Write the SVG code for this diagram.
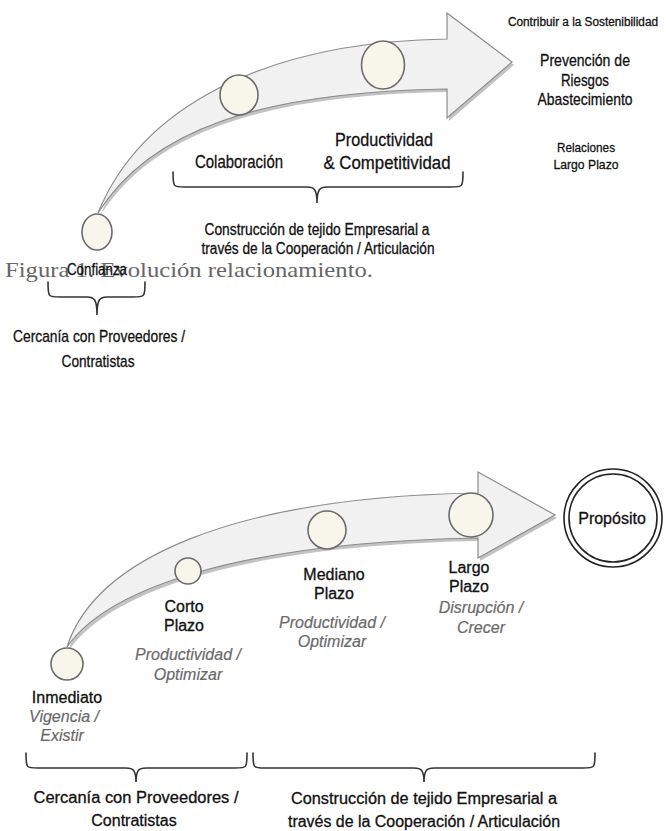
<svg xmlns="http://www.w3.org/2000/svg" width="666" height="831" viewBox="0 0 666 831">
  <defs>
    <style>
      .lbl { font-family: "Liberation Sans", Arial, Helvetica, sans-serif; fill: #111111; stroke: #111111; stroke-width: 0.3; text-anchor: middle; }
      .top { font-size: 19px; }
      .mid { font-size: 16px; }
      .big { font-size: 17px; }
      .sm { font-size: 13.5px; }
      .xs { font-size: 12px; }
      .side { font-size: 17px; }
      .btm { font-size: 16px; }
      .note { font-family: "Liberation Sans", Arial, Helvetica, sans-serif; font-size: 16px; font-style: italic; fill: #6a6a6a; stroke: #6a6a6a; stroke-width: 0.2; text-anchor: middle; }
      .cap { font-family: "Liberation Serif", "Times New Roman", serif; font-size: 22px; fill: #666666; }
      .arrow { fill: #f1f1f1; stroke: #8c8c8c; stroke-width: 1.2; }
      .shadow { fill: #b4b4b4; opacity: 0.8; }
      .dot { fill: #f8f5ea; stroke: #6b6b6b; stroke-width: 1.6; }
      .brace { fill: none; stroke: #333333; stroke-width: 1.6; stroke-linecap: round; }
      .ring { fill: #ffffff; stroke: #222222; stroke-width: 1.6; }
    </style>
  </defs>

  <rect width="666" height="831" fill="#ffffff"/>

  <!-- Upper figure: curved growth arrow -->
  <g id="arrow-top">
    <path class="shadow" transform="translate(2,3)" d="M98,213 C140,110 260,42 447,39 L447,13 L512,62 L447,118 L447,89 C260,92 150,130 98,213 Z"/>
    <path class="arrow" d="M98,213 C140,110 260,42 447,39 L447,13 L512,62 L447,118 L447,89 C260,92 150,130 98,213 Z"/>
  </g>

  <g id="caption">
    <text class="cap" x="5" y="277" textLength="368" lengthAdjust="spacingAndGlyphs">Figura 1. Evolución relacionamiento.</text>
  </g>

  <g id="node-confianza">
    <ellipse class="dot" cx="97" cy="232" rx="15" ry="18"/>
    <text class="lbl big" x="97" y="275" textLength="60" lengthAdjust="spacingAndGlyphs">Confianza</text>
  </g>

  <g id="node-colaboracion">
    <ellipse class="dot" cx="239" cy="95" rx="19" ry="20"/>
    <text class="lbl top" x="239" y="168" textLength="88" lengthAdjust="spacingAndGlyphs">Colaboración</text>
  </g>

  <g id="node-productividad">
    <ellipse class="dot" cx="383" cy="65" rx="21.5" ry="24"/>
    <text class="lbl top" x="384" y="146" textLength="98" lengthAdjust="spacingAndGlyphs">Productividad</text>
    <text class="lbl top" x="387" y="169" textLength="127" lengthAdjust="spacingAndGlyphs">&amp; Competitividad</text>
  </g>

  <g id="outcomes-top">
    <text class="lbl xs" x="583" y="26" textLength="150" lengthAdjust="spacingAndGlyphs">Contribuir a la Sostenibilidad</text>
    <text class="lbl side" x="585" y="66" textLength="90" lengthAdjust="spacingAndGlyphs">Prevención de</text>
    <text class="lbl side" x="585" y="86" textLength="48" lengthAdjust="spacingAndGlyphs">Riesgos</text>
    <text class="lbl side" x="585" y="105" textLength="95" lengthAdjust="spacingAndGlyphs">Abastecimiento</text>
    <text class="lbl sm" x="586" y="152" textLength="58" lengthAdjust="spacingAndGlyphs">Relaciones</text>
    <text class="lbl sm" x="586" y="169" textLength="65" lengthAdjust="spacingAndGlyphs">Largo Plazo</text>
  </g>

  <g id="group-top-cercania">
    <path class="brace" d="M48,282 C48,297 48,297 60,297 H87 C94,297 97,299 97,315 C97,299 100,297 107,297 H133 C145,297 145,297 145,282"/>
    <text class="lbl big" x="99" y="342" textLength="172" lengthAdjust="spacingAndGlyphs">Cercanía con Proveedores /</text>
    <text class="lbl big" x="98" y="367" textLength="73" lengthAdjust="spacingAndGlyphs">Contratistas</text>
  </g>

  <g id="group-top-construccion">
    <path class="brace" d="M173,172 C173,187 173,187 185,187 H307 C314,187 317,189 317,203 C317,189 320,187 327,187 H451 C463,187 463,187 463,172"/>
    <text class="lbl mid" x="317" y="235" textLength="225" lengthAdjust="spacingAndGlyphs">Construcción de tejido Empresarial a</text>
    <text class="lbl mid" x="318" y="254" textLength="233" lengthAdjust="spacingAndGlyphs">través de la Cooperación / Articulación</text>
  </g>

  <!-- Lower figure: horizon arrow towards the purpose -->
  <g id="arrow-bottom">
    <path class="shadow" transform="translate(2,3)" d="M67,647 C95,560 230,497 478,493 L478,472 L555,515 L478,558 L478,538 C250,542 110,585 67,647 Z"/>
    <path class="arrow" d="M67,647 C95,560 230,497 478,493 L478,472 L555,515 L478,558 L478,538 C250,542 110,585 67,647 Z"/>
  </g>

  <g id="node-inmediato">
    <circle class="dot" cx="67" cy="664" r="16"/>
    <text class="lbl btm" x="67" y="703">Inmediato</text>
    <text class="note" x="64" y="722">Vigencia /</text>
    <text class="note" x="62" y="741">Existir</text>
  </g>

  <g id="node-corto">
    <circle class="dot" cx="188" cy="571" r="13"/>
    <text class="lbl btm" x="184" y="612">Corto</text>
    <text class="lbl btm" x="184" y="631">Plazo</text>
    <text class="note" x="188" y="660">Productividad /</text>
    <text class="note" x="188" y="680">Optimizar</text>
  </g>

  <g id="node-mediano">
    <circle class="dot" cx="327" cy="530" r="19"/>
    <text class="lbl btm" x="334" y="580">Mediano</text>
    <text class="lbl btm" x="334" y="599">Plazo</text>
    <text class="note" x="332" y="628">Productividad /</text>
    <text class="note" x="332" y="647">Optimizar</text>
  </g>

  <g id="node-largo">
    <circle class="dot" cx="471" cy="515" r="22"/>
    <text class="lbl btm" x="469" y="573">Largo</text>
    <text class="lbl btm" x="469" y="592">Plazo</text>
    <text class="note" x="481" y="613">Disrupción /</text>
    <text class="note" x="481" y="633">Crecer</text>
  </g>

  <g id="node-proposito">
    <circle class="ring" cx="613" cy="518" r="49"/>
    <circle class="ring" cx="613" cy="518" r="44" fill="none"/>
    <text class="lbl btm" x="612" y="524">Propósito</text>
  </g>

  <g id="group-bottom-cercania">
    <path class="brace" d="M26,753 C26,768 26,768 38,768 H126 C133,768 136,770 136,782 C136,770 139,768 146,768 H235 C247,768 247,768 247,753"/>
    <text class="lbl btm" x="136" y="803" textLength="205" lengthAdjust="spacingAndGlyphs">Cercanía con Proveedores /</text>
    <text class="lbl btm" x="134" y="826">Contratistas</text>
  </g>

  <g id="group-bottom-construccion">
    <path class="brace" d="M253,753 C253,768 253,768 265,768 H414 C421,768 424,770 424,782 C424,770 427,768 434,768 H583 C595,768 595,768 595,753"/>
    <text class="lbl btm" x="424" y="804" textLength="266" lengthAdjust="spacingAndGlyphs">Construcción de tejido Empresarial a</text>
    <text class="lbl btm" x="424" y="827" textLength="272" lengthAdjust="spacingAndGlyphs">través de la Cooperación / Articulación</text>
  </g>
</svg>
